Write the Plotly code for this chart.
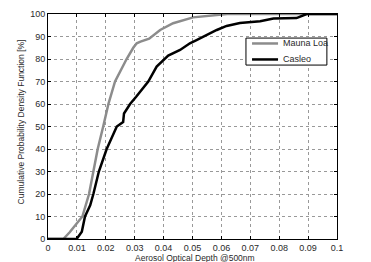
import plotly.graph_objects as go

mauna_x = [0, 0.0053, 0.0075, 0.0095, 0.0119, 0.0142, 0.0157, 0.0172, 0.0191, 0.0209, 0.0232, 0.0255, 0.0272, 0.0295, 0.0307, 0.032, 0.035, 0.0388, 0.0433, 0.0502, 0.0595, 0.062, 0.1]
mauna_y = [0, 0, 3, 6, 10, 20, 30, 40, 50, 60, 70, 76, 80, 85, 87, 87.7, 89, 92.9, 95.9, 98.5, 99.5, 100, 100]

casleo_x = [0, 0.0099, 0.0117, 0.0128, 0.0146, 0.0157, 0.0176, 0.0203, 0.0238, 0.026, 0.0263, 0.0284, 0.0305, 0.0347, 0.0376, 0.0416, 0.0457, 0.0491, 0.0514, 0.0584, 0.0618, 0.0664, 0.0734, 0.078, 0.086, 0.0895, 0.1]
casleo_y = [0, 0, 3.2, 10, 15, 20, 30, 40, 50, 52, 55.8, 60, 63.2, 70, 76.6, 81.5, 84, 87, 88.4, 92.9, 94.7, 96, 96.8, 98.0, 98.2, 100, 100]

x_ticks = [0, 0.01, 0.02, 0.03, 0.04, 0.05, 0.06, 0.07, 0.08, 0.09, 0.1]
x_tick_labels = ["0", "0.01", "0.02", "0.03", "0.04", "0.05", "0.06", "0.07", "0.08", "0.09", "0.1"]
y_ticks = [0, 10, 20, 30, 40, 50, 60, 70, 80, 90, 100]

series = [("Mauna Loa", mauna_x, mauna_y, "#8c8c8c"), ("Casleo", casleo_x, casleo_y, "#000000")]

fam = "Liberation Sans, Arial, sans-serif"
tcol = "#2a2a2a"
font = dict(family=fam, size=9, color=tcol)
title_font = dict(family=fam, size=8.5, color=tcol)

fig = go.Figure()
for name, xs, ys, col in series:
    fig.add_trace(go.Scatter(x=xs, y=ys, mode="lines", name=name,
                             line=dict(color=col, width=2.5), showlegend=False))

axis_common = dict(showline=True, linecolor="#000000", linewidth=1, mirror="ticks",
                   showgrid=True, gridcolor="#999999", griddash="dot", gridwidth=1,
                   ticks="inside", ticklen=3, tickcolor="#000000", zeroline=False,
                   tickfont=font, automargin=False)

# legend box drawn in paper coordinates (MATLAB-style)
lx0, lx1, ly0, ly1 = 0.685, 0.965, 0.773, 0.893
shapes = [dict(type="rect", xref="paper", yref="paper", x0=lx0, x1=lx1, y0=ly0, y1=ly1,
               line=dict(color="#000000", width=1), fillcolor="white", layer="above")]
annotations = []
for i, (name, xs, ys, col) in enumerate(series):
    yy = 0.869 - i * 0.071
    shapes.append(dict(type="line", xref="paper", yref="paper", x0=0.706, x1=0.796, y0=yy, y1=yy,
                       line=dict(color=col, width=2.5), layer="above"))
    annotations.append(dict(xref="paper", yref="paper", x=0.806, y=yy, text=name, showarrow=False,
                            xanchor="left", yanchor="middle", font=dict(family=fam, size=9, color=tcol)))

annotations.append(dict(xref="paper", yref="paper", x=0.51, y=-0.084,
                        text="Aerosol Optical Depth @500nm", showarrow=False,
                        xanchor="center", yanchor="middle", font=title_font))
annotations.append(dict(xref="paper", yref="paper", x=-0.092, y=0.52, textangle=-90,
                        text="Cumulative Probability Density Function [%]", showarrow=False,
                        xanchor="center", yanchor="middle", font=title_font))

fig.update_layout(
    width=371, height=262,
    margin=dict(l=48, r=34, t=14, b=23),
    paper_bgcolor="white", plot_bgcolor="white",
    font=font, showlegend=False,
    shapes=shapes, annotations=annotations,
)
fig.update_xaxes(range=[0, 0.1], tickvals=x_ticks, ticktext=x_tick_labels, **axis_common)
fig.update_yaxes(range=[0, 100], tickvals=y_ticks, **axis_common)
fig.write_html("out.html", config={"displayModeBar": False},
               post_script="document.body.style.margin='0';document.body.style.padding='0';")
